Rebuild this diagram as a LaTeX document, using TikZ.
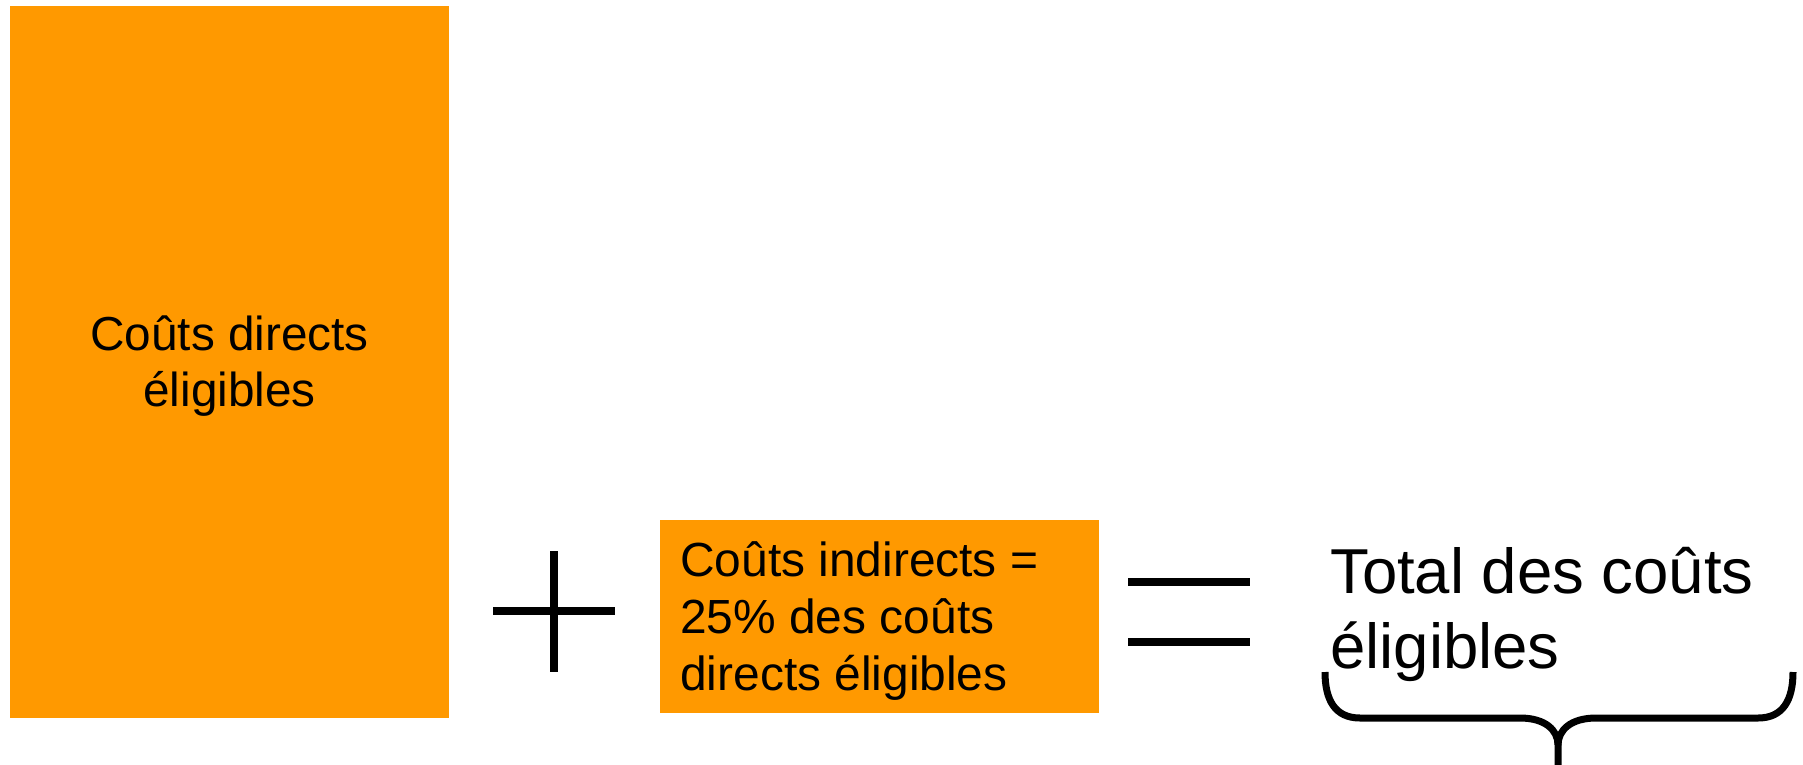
\documentclass[tikz,border=0pt]{standalone}
\usepackage{fontspec}
\setmainfont{Liberation Sans}
\definecolor{orangebox}{RGB}{255,153,0}
\tikzset{
  boxfill/.style={fill=orangebox, draw=none},
  opline/.style={line width=8pt, black},
  bracestroke/.style={line width=7pt, black, line cap=butt, line join=round},
  txt/.style={inner sep=0pt, text=black}
}
\begin{document}
\begin{tikzpicture}[x=1pt,y=-1pt]
\useasboundingbox (0,0) rectangle (1803,764);
\fill[white] (0,0) rectangle (1803,764);
% boxes
\path[boxfill] (10,6) rectangle (449,718);
\coordinate (bigc) at (229.5,350);
\node[txt, anchor=base] (bigtxt) at (bigc) {\fontsize{47.7}{56.5}\selectfont\vtop{\halign{\hfil#\hfil\cr Coûts directs\cr éligibles\cr}}};
\path[boxfill] (660,520) rectangle (1099,713);
\node[txt, anchor=base west] (smalltxt) at (680,576) {\fontsize{47.9}{57}\selectfont\vtop{\hbox{Coûts indirects =}\hbox{25\% des coûts}\hbox{directs éligibles}}};
% plus
\coordinate (plt) at (554,551);
\coordinate (plb) at (554,672);
\coordinate (pll) at (493,611);
\coordinate (plr) at (615,611);
\draw[opline] (plt) -- (plb);
\draw[opline] (pll) -- (plr);
% equals
\coordinate (eq1l) at (1128,581.5);
\coordinate (eq1r) at (1250,581.5);
\coordinate (eq2l) at (1128,641.5);
\coordinate (eq2r) at (1250,641.5);
\draw[opline] (eq1l) -- (eq1r);
\draw[opline] (eq2l) -- (eq2r);
% total
\node[txt, anchor=base west] (total) at (1330,593) {\fontsize{63.5}{75.5}\selectfont\vtop{\hbox{Total des coûts}\hbox{éligibles}}};
% brace
\coordinate (bl) at (1325,672);
\coordinate (br) at (1793,672);
\coordinate (bm) at (1558,745);
\coordinate (bt) at (1558,770);
\draw[bracestroke] (bl) .. controls (1325,700) and (1335,718) .. (1360,718)
  -- (1520,718) .. controls (1545,718) and (1558,730) .. (bm) -- (bt);
\draw[bracestroke] (br) .. controls (1793,700) and (1783,718) .. (1758,718)
  -- (1596,718) .. controls (1571,718) and (1558,730) .. (bm);
\end{tikzpicture}
\end{document}
